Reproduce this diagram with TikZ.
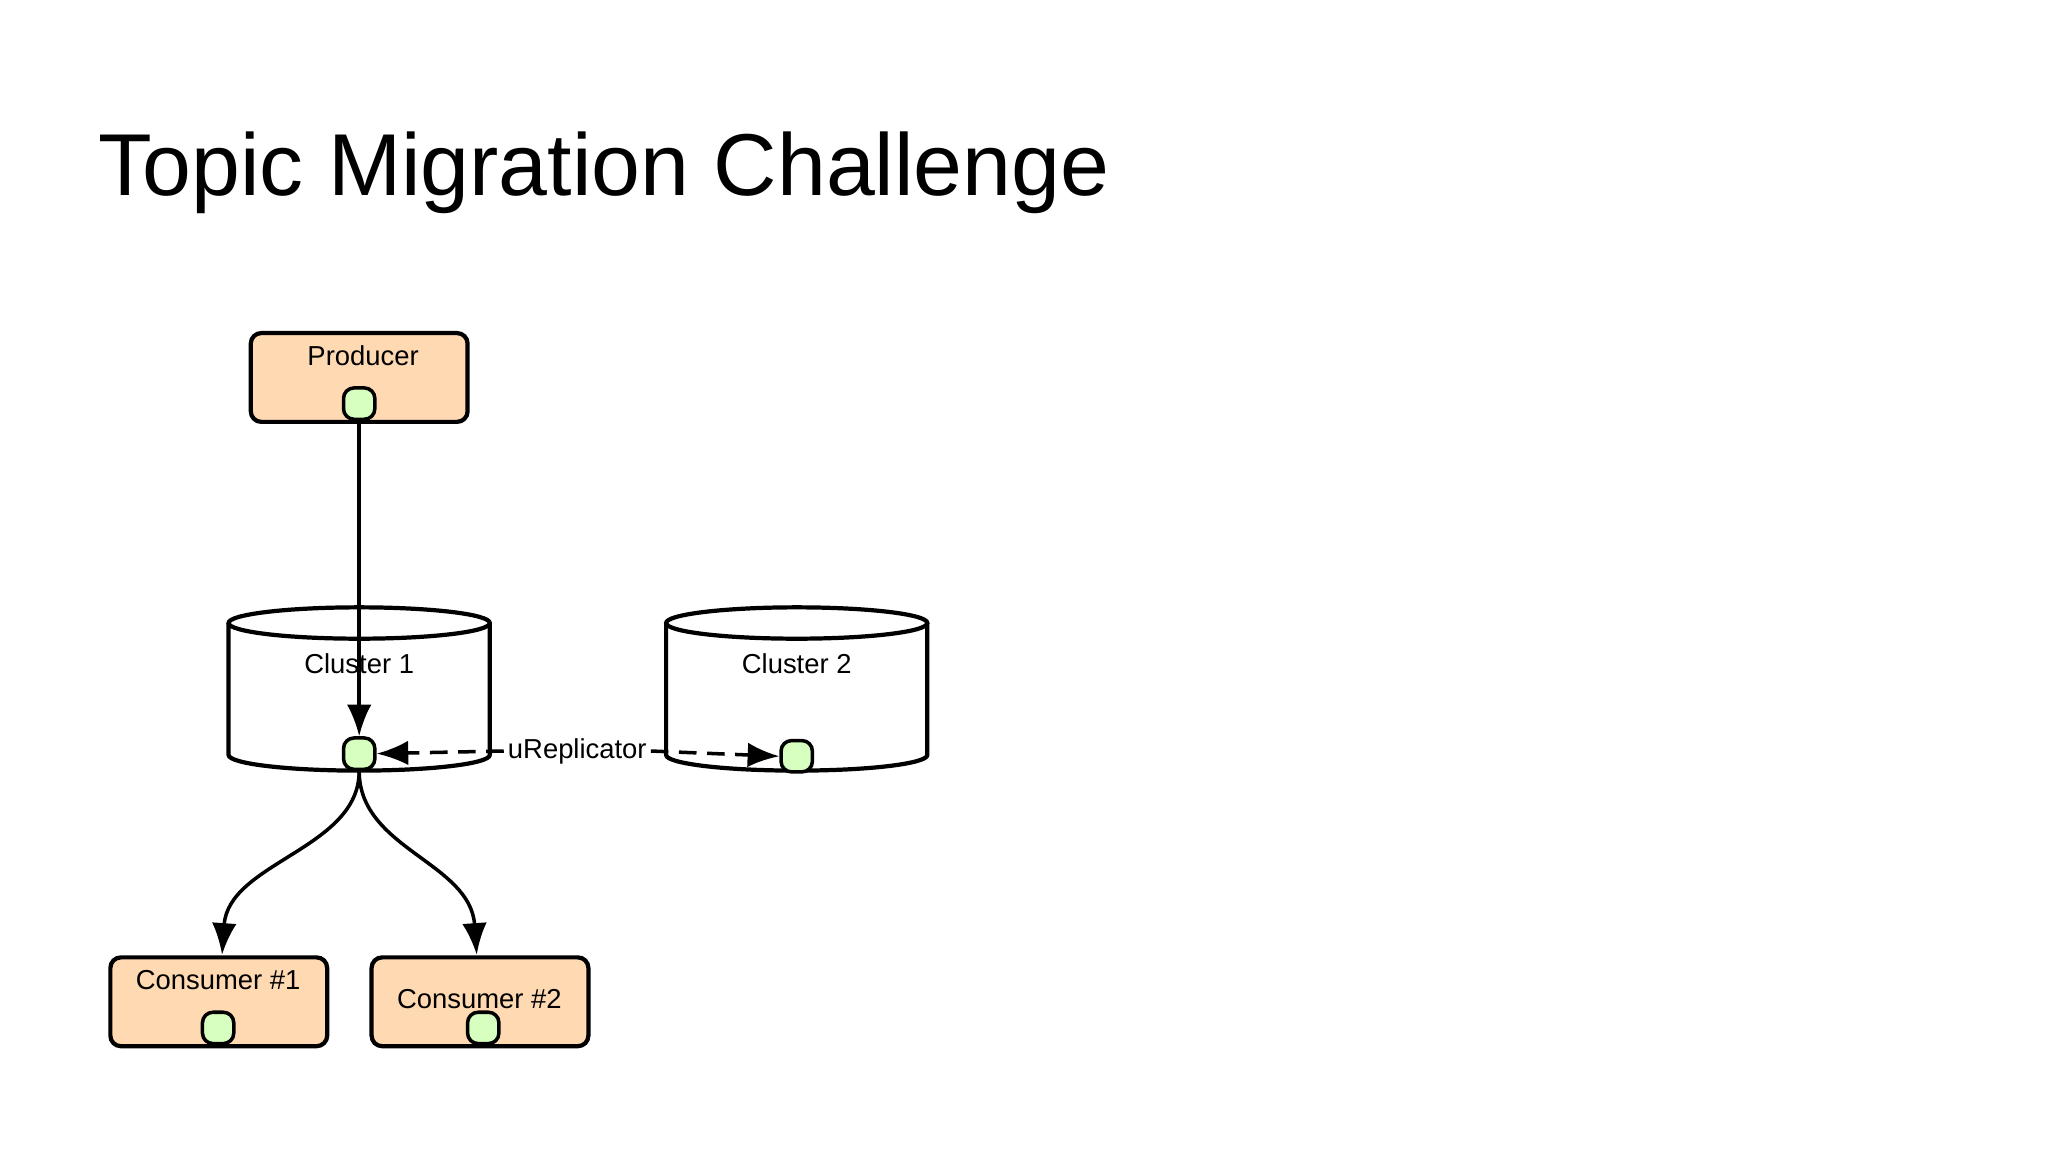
\documentclass[tikz,border=0pt]{standalone}
\usepackage{fontspec}
\setmainfont{Liberation Sans}
\usetikzlibrary{arrows.meta}
\begin{document}
\begin{tikzpicture}[x=0.013061cm,y=-0.013061cm,
  box/.style={draw,line width=1.2pt,rounded corners=3pt,fill=orange!30!white,minimum width=166*0.013061cm,minimum height=68*0.013061cm,inner sep=0},
  port/.style={draw,line width=1pt,rounded corners=3pt,fill=green!50!lime!25!white,minimum size=24*0.013061cm,inner sep=0},
  lbl/.style={font=\fontsize{7.8}{9}\selectfont},
  arr/.style={line width=1pt,-{Latex[length=9pt,width=7pt]}}]
\useasboundingbox (0,0) rectangle (1568,882);
\node[anchor=base west,font=\fontsize{25}{30}\selectfont] (title) at (66,150) {Topic Migration Challenge};
% boxes
\node[box] (prod) at (275,289) {};
\node[lbl] (prodt) at (278,272) {Producer};
\node[port] (pp) at (275,309) {};
\node[box] (c1) at (167.5,767) {};
\node[lbl] (c1t) at (167,750) {Consumer \#1};
\node[port] (c1p) at (167,787) {};
\node[box] (c2) at (367.5,767) {};
\node[lbl] (c2t) at (367,765) {Consumer \#2};
\node[port] (c2p) at (370,787) {};
% cylinders
\foreach \cx/\nm in {275/k1,610/k2}{
  \fill[white] (\cx-100,477) -- (\cx-100,578) arc[start angle=180,end angle=360,x radius=100,y radius=-12] -- (\cx+100,477) -- cycle;
  \draw[line width=1.2pt] (\cx-100,477) -- (\cx-100,578) arc[start angle=180,end angle=360,x radius=100,y radius=-12] -- (\cx+100,477);
  \draw[line width=1.2pt,fill=white] (\cx,477) ellipse[x radius=100,y radius=12];
}
\node[lbl] (k1t) at (275,508) {Cluster 1};
\node[lbl] (k2t) at (610,508) {Cluster 2};
\node[port] (k1p) at (275,577) {};
\node[port] (k2p) at (610,579) {};
\node[lbl,fill=white,inner sep=1pt] (rep) at (442,575) {uReplicator};
% connectors
\draw[arr] (pp.south) -- (k1p.north);
\draw[arr,dashed,dash pattern=on 5pt off 3pt] (rep.west) -- (k1p.east);
\draw[arr,dashed,dash pattern=on 5pt off 3pt] (rep.east) -- (k2p.west);
\draw[arr] (k1p.south) .. controls (275,650) and (175,660) .. (170,731);
\draw[arr] (k1p.south) .. controls (275,650) and (360,660) .. (365,731);
\end{tikzpicture}
\end{document}
